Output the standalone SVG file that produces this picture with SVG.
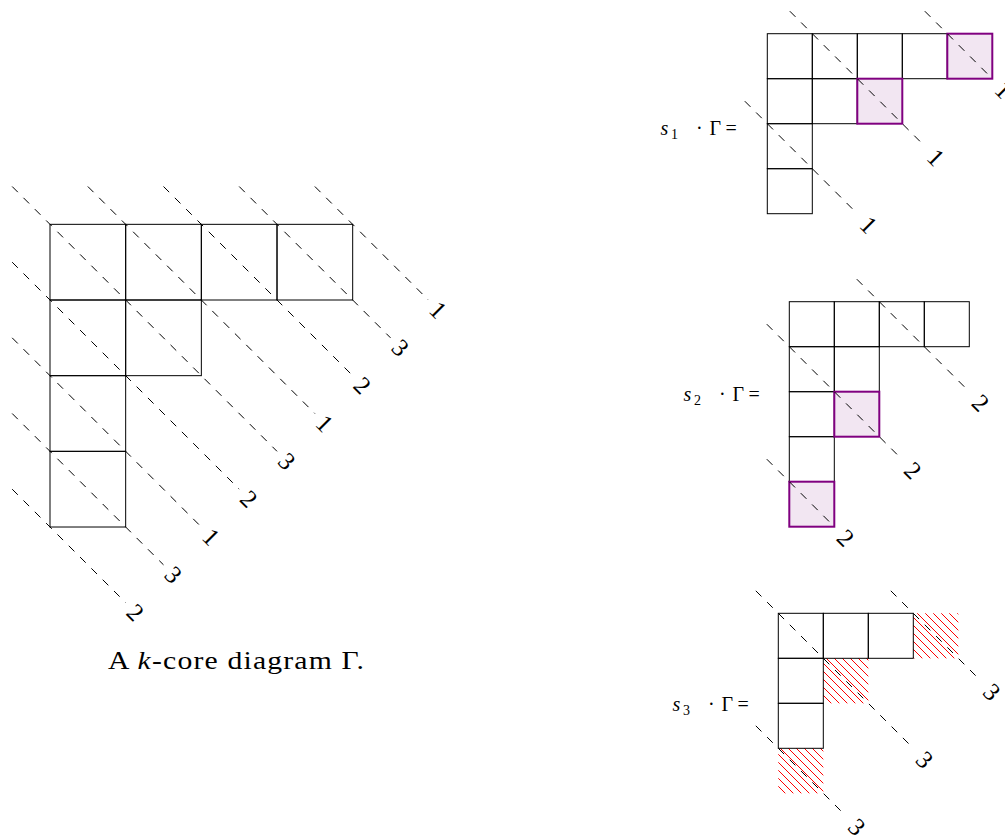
<svg xmlns="http://www.w3.org/2000/svg" width="1005" height="835" viewBox="0 0 1005 835">
<style>
.cell{fill:none;stroke:#000;stroke-width:1}
.hl{fill:#f2e6f2;stroke:#800080;stroke-width:2}
.hatch{fill:url(#nwl);stroke:none}
.dash{fill:none;stroke:#000;stroke-width:1;stroke-dasharray:8 8}
.num{font-family:'Liberation Serif','DejaVu Serif',serif;font-size:25px;text-anchor:middle;dominant-baseline:central;fill:#000}
.lbl{font-family:'Liberation Serif','DejaVu Serif',serif;font-size:20px;fill:#000}
.cap{font-family:'Liberation Serif','DejaVu Serif',serif;font-size:25px;letter-spacing:1px;fill:#000}
</style>
<defs>
<pattern id="nwl" patternUnits="userSpaceOnUse" width="8" height="8">
<path d="M-1,-1 L9,9 M-1,7 L1,9 M7,-1 L9,1" stroke="#ff0000" stroke-width="1"/>
</pattern>
</defs>

<g id="gamma">
<rect class="cell" x="50" y="224.33" width="75.67" height="75.67"/>
<rect class="cell" x="125.67" y="224.33" width="75.67" height="75.67"/>
<rect class="cell" x="201.34" y="224.33" width="75.67" height="75.67"/>
<rect class="cell" x="277.01" y="224.33" width="75.67" height="75.67"/>
<rect class="cell" x="50" y="300" width="75.67" height="75.67"/>
<rect class="cell" x="125.67" y="300" width="75.67" height="75.67"/>
<rect class="cell" x="50" y="375.67" width="75.67" height="75.67"/>
<rect class="cell" x="50" y="451.34" width="75.67" height="75.67"/>
</g>

<g id="s1">
<rect class="cell" x="767.3" y="33.7" width="45" height="45"/>
<rect class="cell" x="812.3" y="33.7" width="45" height="45"/>
<rect class="cell" x="857.3" y="33.7" width="45" height="45"/>
<rect class="cell" x="902.3" y="33.7" width="45" height="45"/>
<rect class="cell" x="767.3" y="78.7" width="45" height="45"/>
<rect class="cell" x="812.3" y="78.7" width="45" height="45"/>
<rect class="cell" x="767.3" y="123.7" width="45" height="45"/>
<rect class="cell" x="767.3" y="168.7" width="45" height="45"/>
<rect class="hl" x="947.3" y="33.7" width="45" height="45"/>
<rect class="hl" x="857.3" y="78.7" width="45" height="45"/>
</g>

<g id="s2">
<rect class="cell" x="789.3" y="301.7" width="45" height="45"/>
<rect class="cell" x="834.3" y="301.7" width="45" height="45"/>
<rect class="cell" x="879.3" y="301.7" width="45" height="45"/>
<rect class="cell" x="924.3" y="301.7" width="45" height="45"/>
<rect class="cell" x="789.3" y="346.7" width="45" height="45"/>
<rect class="cell" x="834.3" y="346.7" width="45" height="45"/>
<rect class="cell" x="789.3" y="391.7" width="45" height="45"/>
<rect class="cell" x="789.3" y="436.7" width="45" height="45"/>
<rect class="hl" x="834.3" y="391.7" width="45" height="45"/>
<rect class="hl" x="789.3" y="481.7" width="45" height="45"/>
</g>

<g id="s3">
<rect class="hatch" x="913.3" y="613.3" width="45" height="45"/>
<rect class="hatch" x="823.3" y="658.3" width="45" height="45"/>
<rect class="hatch" x="778.3" y="748.3" width="45" height="45"/>
<rect class="cell" x="778.3" y="613.3" width="45" height="45"/>
<rect class="cell" x="823.3" y="613.3" width="45" height="45"/>
<rect class="cell" x="868.3" y="613.3" width="45" height="45"/>
<rect class="cell" x="778.3" y="658.3" width="45" height="45"/>
<rect class="cell" x="778.3" y="703.3" width="45" height="45"/>
</g>

<g id="connectors">
<line class="dash" x1="314.85" y1="186.5" x2="428.35" y2="300"/>
<line class="dash" x1="239.18" y1="186.5" x2="390.5" y2="337.83"/>
<line class="dash" x1="163.51" y1="186.5" x2="352.68" y2="375.67"/>
<line class="dash" x1="87.84" y1="186.5" x2="314.85" y2="413.5"/>
<line class="dash" x1="12.17" y1="186.5" x2="277.01" y2="451.34"/>
<line class="dash" x1="12.17" y1="262.16" x2="239.18" y2="489.17"/>
<line class="dash" x1="12.17" y1="337.83" x2="201.34" y2="527"/>
<line class="dash" x1="12.17" y1="413.5" x2="163.51" y2="564.84"/>
<line class="dash" x1="12.17" y1="489.17" x2="125.67" y2="602.67"/>

<line class="dash" x1="789.8" y1="11.2" x2="924.8" y2="146.2"/>
<line class="dash" x1="924.8" y1="11.2" x2="992.3" y2="78.7"/>
<line class="dash" x1="744.8" y1="101.2" x2="857.3" y2="213.7"/>

<line class="dash" x1="856.8" y1="279.2" x2="969.3" y2="391.7"/>
<line class="dash" x1="766.8" y1="324.2" x2="901.8" y2="459.2"/>
<line class="dash" x1="766.8" y1="459.2" x2="834.3" y2="526.7"/>

<line class="dash" x1="755.8" y1="590.8" x2="913.3" y2="748.3"/>
<line class="dash" x1="890.8" y1="590.8" x2="980.8" y2="680.8"/>
<line class="dash" x1="755.8" y1="725.8" x2="845.8" y2="815.8"/>
</g>

<g id="labels">
<text class="num" x="438.2" y="309.8" transform="rotate(45 438.2 309.8)">1</text>
<text class="num" x="400.3" y="347.7" transform="rotate(45 400.3 347.7)">3</text>
<text class="num" x="362.5" y="385.5" transform="rotate(45 362.5 385.5)">2</text>
<text class="num" x="324.7" y="423.3" transform="rotate(45 324.7 423.3)">1</text>
<text class="num" x="286.9" y="461.2" transform="rotate(45 286.9 461.2)">3</text>
<text class="num" x="249" y="499" transform="rotate(45 249 499)">2</text>
<text class="num" x="211.2" y="536.8" transform="rotate(45 211.2 536.8)">1</text>
<text class="num" x="173.4" y="574.7" transform="rotate(45 173.4 574.7)">3</text>
<text class="num" x="135.5" y="612.5" transform="rotate(45 135.5 612.5)">2</text>

<text class="num" x="936" y="157.5" transform="rotate(45 936 157.5)">1</text>
<text class="num" x="1003.6" y="90" transform="rotate(45 1003.6 90)">1</text>
<text class="num" x="868.6" y="225" transform="rotate(45 868.6 225)">1</text>

<text class="num" x="980.6" y="403" transform="rotate(45 980.6 403)">2</text>
<text class="num" x="913" y="470.5" transform="rotate(45 913 470.5)">2</text>
<text class="num" x="845.6" y="538" transform="rotate(45 845.6 538)">2</text>

<text class="num" x="924.6" y="759.6" transform="rotate(45 924.6 759.6)">3</text>
<text class="num" x="992" y="692" transform="rotate(45 992 692)">3</text>
<text class="num" x="857" y="827" transform="rotate(45 857 827)">3</text>

<text class="lbl" y="134.5"><tspan x="660.5" font-style="italic">s</tspan><tspan x="671" dy="4" font-size="14px">1</tspan><tspan x="696" dy="-4">·</tspan><tspan x="709.5">Γ</tspan><tspan x="725.5">=</tspan></text>
<text class="lbl" y="400.5"><tspan x="683.5" font-style="italic">s</tspan><tspan x="694" dy="4" font-size="14px">2</tspan><tspan x="719" dy="-4">·</tspan><tspan x="732.5">Γ</tspan><tspan x="748.5">=</tspan></text>
<text class="lbl" y="710.5"><tspan x="672.5" font-style="italic">s</tspan><tspan x="683" dy="4" font-size="14px">3</tspan><tspan x="708" dy="-4">·</tspan><tspan x="721.5">Γ</tspan><tspan x="737.5">=</tspan></text>

<text class="cap" x="108" y="669" textLength="257" lengthAdjust="spacingAndGlyphs">A <tspan font-style="italic">k</tspan>-core diagram Γ.</text>
</g>
</svg>
